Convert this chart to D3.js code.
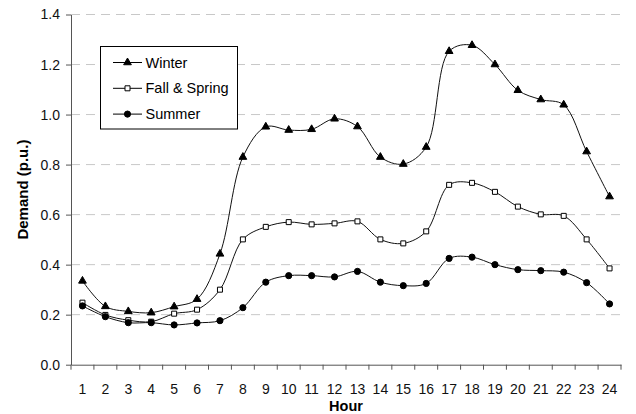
<!DOCTYPE html>
<html>
<head>
<meta charset="utf-8">
<script src="https://cdn.jsdelivr.net/npm/d3@7"></script>
<style>
  body { margin: 0; background: #fff; }
  text { font-family: "Liberation Sans", Arial, sans-serif; }
</style>
</head>
<body>
<div id="container"></div>
<script>
/* DATA */
var hours = d3.range(1, 25);
var winter = [0.335, 0.233, 0.213, 0.208, 0.232, 0.262, 0.443, 0.83, 0.951, 0.938, 0.941, 0.983,
  0.952, 0.83, 0.802, 0.87, 1.253, 1.277, 1.2, 1.097, 1.06, 1.039, 0.852, 0.672];
var fallSpring = [0.248, 0.199, 0.178, 0.172, 0.204, 0.22, 0.3, 0.501, 0.551, 0.57, 0.561, 0.565,
  0.573, 0.501, 0.485, 0.533, 0.719, 0.727, 0.691, 0.632, 0.601, 0.595, 0.501, 0.385];
var summer = [0.235, 0.192, 0.168, 0.168, 0.159, 0.167, 0.176, 0.228, 0.33, 0.356, 0.356, 0.351,
  0.373, 0.33, 0.316, 0.325, 0.425, 0.43, 0.4, 0.38, 0.376, 0.37, 0.328, 0.243];
var yTicks = [0, 0.2, 0.4, 0.6, 0.8, 1.0, 1.2, 1.4];
var seriesNames = ["Winter", "Fall & Spring", "Summer"];

var W = 636, H = 414;
var margin = { top: 14.5, right: 15, bottom: 49.3, left: 71 };
var width = W - margin.left - margin.right,
  height = H - margin.top - margin.bottom;

var svg = d3.select("#container").append("svg")
  .attr("width", W).attr("height", H);
var g = svg.append("g")
  .attr("transform", "translate(" + margin.left + "," + margin.top + ")");

// SCALES
var x = d3.scaleBand().domain(hours).range([0, width]);
var y = d3.scaleLinear().domain([0, 1.4]).range([height, 0]);

// gridlines
g.selectAll("line.grid")
  .data(yTicks.filter(d => d > 0))
  .enter().append("line")
  .attr("class", "grid")
  .attr("x1", 0).attr("x2", width)
  .attr("y1", d => y(d)).attr("y2", d => y(d))
  .attr("stroke", "#c8c8c8")
  .attr("stroke-width", 1)
  .attr("stroke-dasharray", "9,6");

// AXES
var yAxis = g.append("g")
  .call(d3.axisLeft(y).tickValues(yTicks).tickFormat(d3.format(".1f")).tickSize(5).tickSizeOuter(0));
yAxis.select(".domain").attr("stroke", "#555");
yAxis.selectAll(".tick line").attr("stroke", "#555");
yAxis.selectAll("text").attr("font-size", 14).attr("fill", "#111").attr("x", -11);

var xAxis = g.append("g")
  .attr("transform", "translate(0," + height + ")")
  .call(d3.axisBottom(x).tickSize(0).tickSizeOuter(0));
xAxis.select(".domain").attr("stroke", "#555");
xAxis.selectAll("text").attr("font-size", 14).attr("fill", "#111").attr("y", 19);

// tick marks between categories
g.selectAll("line.xtick")
  .data(d3.range(0, 25))
  .enter().append("line")
  .attr("class", "xtick")
  .attr("x1", d => d * x.step()).attr("x2", d => d * x.step())
  .attr("y1", height).attr("y2", height + 5)
  .attr("stroke", "#555");

// axis titles
g.append("text")
  .attr("x", width / 2).attr("y", height + 46)
  .attr("text-anchor", "middle")
  .attr("font-size", 14.5).attr("font-weight", "bold")
  .text("Hour");

g.append("text")
  .attr("transform", "translate(" + (-43) + "," + (height / 2) + ") rotate(-90)")
  .attr("text-anchor", "middle")
  .attr("font-size", 15).attr("font-weight", "bold")
  .text("Demand (p.u.)");

// LINES
var line = d3.line()
  .x((d, i) => x(hours[i]) + x.bandwidth() / 2)
  .y(d => y(d))
  .curve(d3.curveCatmullRom.alpha(0.5));

var allSeries = [winter, fallSpring, summer];
allSeries.forEach(function (s) {
  g.append("path")
    .datum(s)
    .attr("fill", "none")
    .attr("stroke", "#111")
    .attr("stroke-width", 1)
    .attr("d", line);
});

var tri = d3.symbol().type(d3.symbolTriangle).size(26);
var sq = d3.symbol().type(d3.symbolSquare).size(25);
var circ = d3.symbol().type(d3.symbolCircle).size(30);

function drawMarkers(sel, data, sym, fill) {
  sel.selectAll(null)
    .data(data)
    .enter().append("path")
    .attr("transform", (d, i) => "translate(" + (x(hours[i]) + x.bandwidth() / 2) + "," + y(d) + ")")
    .attr("d", sym)
    .attr("fill", fill)
    .attr("stroke", "#000")
    .attr("stroke-width", 1);
}
drawMarkers(g.append("g"), winter, tri, "#000");
drawMarkers(g.append("g"), fallSpring, sq, "#fff");
drawMarkers(g.append("g"), summer, circ, "#000");

// LEGEND
var legend = svg.append("g").attr("transform", "translate(100.5,46.5)");
legend.append("rect")
  .attr("width", 137).attr("height", 82.5)
  .attr("fill", "#fff").attr("stroke", "#000").attr("stroke-width", 1);

var syms = [tri, sq, circ];
var fills = ["#000", "#fff", "#000"];
seriesNames.forEach(function (name, i) {
  var ly = 16 + i * 25.8;
  legend.append("line")
    .attr("x1", 12.5).attr("x2", 41.5)
    .attr("y1", ly).attr("y2", ly)
    .attr("stroke", "#000").attr("stroke-width", 1);
  legend.append("path")
    .attr("transform", "translate(27," + ly + ")")
    .attr("d", syms[i])
    .attr("fill", fills[i]).attr("stroke", "#000");
  legend.append("text")
    .attr("x", 45).attr("y", ly + 5)
    .attr("font-size", 14.5)
    .text(name);
});
</script>
</body>
</html>
